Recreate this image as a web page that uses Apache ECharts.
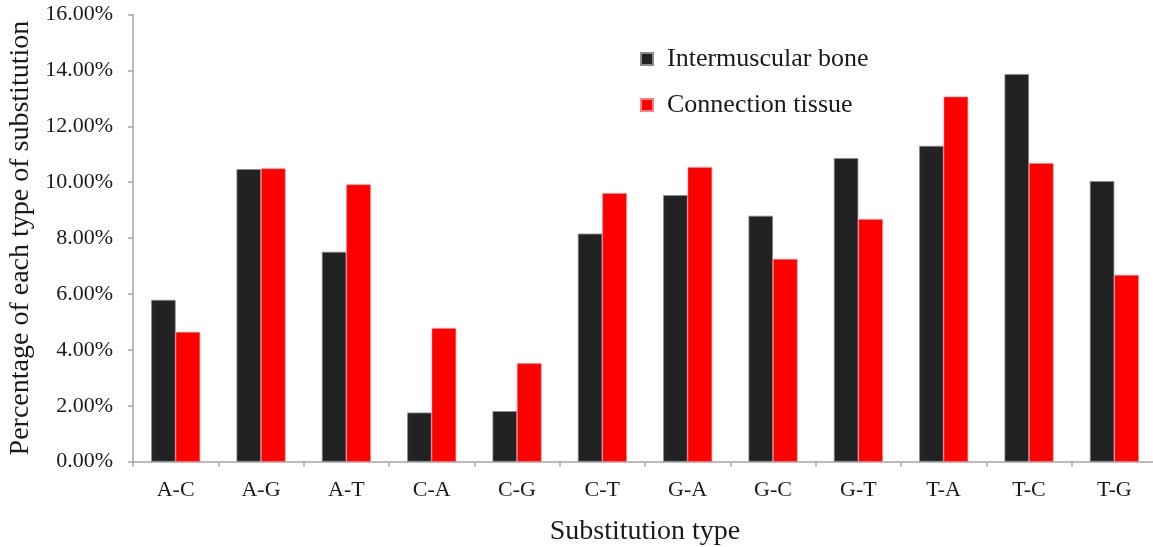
<!DOCTYPE html>
<html>
<head>
<meta charset="utf-8">
<script src="https://cdn.jsdelivr.net/npm/echarts@6/dist/echarts.min.js"></script>
<style>
html,body{margin:0;padding:0;background:#fff;}
#chart{width:1153px;height:547px;}
</style>
</head>
<body>
<div id="chart"></div>
<script>
const categories = ['A-C','A-G','A-T','C-A','C-G','C-T','G-A','G-C','G-T','T-A','T-C','T-G'];
const intermuscularBone = [5.79, 10.47, 7.51, 1.76, 1.81, 8.16, 9.54, 8.80, 10.86, 11.30, 13.87, 10.04];
const connectionTissue = [4.64, 10.49, 9.92, 4.78, 3.52, 9.61, 10.54, 7.25, 8.68, 13.06, 10.68, 6.68];
const seriesNames = ['Intermuscular bone', 'Connection tissue'];

const FONT = '"Liberation Serif", "DejaVu Serif", serif';
const chart = echarts.init(document.getElementById('chart'));
chart.setOption({
  animation: false,
  backgroundColor: '#ffffff',
  grid: { left: 133, top: 14.5, width: 1024, height: 447.2, containLabel: false, outerBoundsMode: 'none' },
  legend: {
    orient: 'vertical',
    left: 640,
    top: 46,
    padding: 0,
    itemWidth: 12,
    itemHeight: 12,
    itemGap: 20,
    icon: 'rect',
    textStyle: { fontFamily: FONT, fontSize: 26, color: '#1a1a1a', lineHeight: 26, padding: [0,0,0,9] },
    data: seriesNames
  },
  xAxis: {
    type: 'category',
    data: categories,
    name: 'Substitution type',
    nameLocation: 'middle',
    nameGap: 56,
    nameTextStyle: { fontFamily: FONT, fontSize: 28, color: '#1a1a1a' },
    axisLine: { lineStyle: { color: '#a6a6a6', width: 1.5 } },
    axisTick: { show: true, length: 5, lineStyle: { color: '#a6a6a6', width: 1.5 } },
    axisLabel: { fontFamily: FONT, fontSize: 22, color: '#1a1a1a', margin: 18 }
  },
  yAxis: {
    type: 'value',
    min: 0,
    max: 16,
    interval: 2,
    name: 'Percentage of each type of substitution',
    nameLocation: 'middle',
    nameGap: 93,
    nameRotate: 90,
    nameTextStyle: { fontFamily: FONT, fontSize: 28, color: '#1a1a1a' },
    axisLine: { show: true, lineStyle: { color: '#a6a6a6', width: 1.5 } },
    axisTick: { show: true, length: 5, lineStyle: { color: '#a6a6a6', width: 1.5 } },
    splitLine: { show: false },
    axisLabel: {
      fontFamily: FONT, fontSize: 22, color: '#1a1a1a', margin: 20,
      formatter: v => v.toFixed(2) + '%'
    }
  },
  series: [
    {
      name: seriesNames[0],
      type: 'bar',
      data: intermuscularBone,
      barWidth: 24.5,
      barGap: '0%',
      itemStyle: { color: '#222222', borderColor: '#8a8a8a', borderWidth: 0.8 }
    },
    {
      name: seriesNames[1],
      type: 'bar',
      data: connectionTissue,
      barWidth: 24.5,
      barGap: '0%',
      itemStyle: { color: '#ff0000', borderColor: '#ff8080', borderWidth: 0.6 }
    }
  ]
});
</script>
</body>
</html>
